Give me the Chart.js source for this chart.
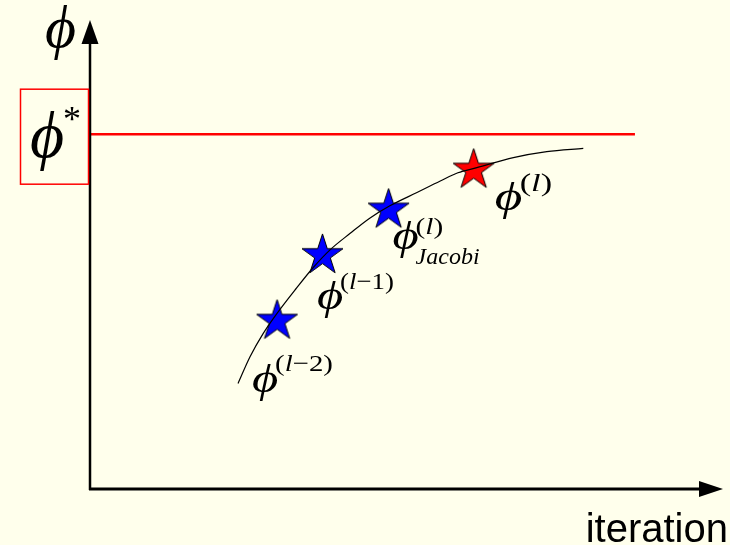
<!DOCTYPE html>
<html>
<head>
<meta charset="utf-8">
<title>Jacobi iteration</title>
<script src="https://cdn.jsdelivr.net/npm/chart.js@4/dist/chart.umd.min.js"></script>
<style>
  html, body { margin: 0; padding: 0; background: #ffffec; }
  canvas { display: block; }
</style>
</head>
<body>
<canvas id="chart" width="730" height="545"></canvas>
<script>
// trace of the iterates (x: iteration, y: phi, arbitrary units)
const curveX = [23.5, 25.4, 27.5, 29.6, 32.8, 35.4, 38.1, 41.3, 44.4, 47.6, 51.9, 55.6, 58.4, 61.4, 67.2, 72.5, 78.3];
const curveY = [23.0, 28.8, 33.9, 38.1, 43.8, 48.2, 52.1, 55.7, 59.0, 61.7, 64.6, 67.1, 68.9, 70.0, 72.2, 73.5, 74.2];

// the marked iterates
const iterX = [29.7, 36.9, 47.4, 60.9];
const iterY = [36.6, 50.9, 60.8, 69.5];
const iterColors = ['#0000ff', '#0000ff', '#0000ff', '#ff0000'];
const iterSup = ['(l\u22122)', '(l\u22121)', '(l)', '(l)'];
const iterSub = ['', '', 'Jacobi', ''];

// converged solution phi*
const phiStar = 77.3;
const phiStarEnd = 86.5;

const SERIF = "'Liberation Serif', 'Times New Roman', 'DejaVu Serif', serif";
const PHI = '\u03D5';

// five-pointed star sprite used as pointStyle
function makeStar(color, r) {
  const c = document.createElement('canvas');
  const size = Math.ceil(r * 2 + 4);
  c.width = size;
  c.height = size;
  const g = c.getContext('2d');
  const cx = size / 2, cy = size / 2, ri = r * 0.382;
  g.beginPath();
  for (let i = 0; i < 10; i++) {
    const rad = i % 2 === 0 ? r : ri;
    const a = -Math.PI / 2 + i * Math.PI / 5;
    const px = cx + rad * Math.cos(a), py = cy + rad * Math.sin(a);
    if (i === 0) g.moveTo(px, py); else g.lineTo(px, py);
  }
  g.closePath();
  g.fillStyle = color;
  g.fill();
  g.lineWidth = 1;
  g.strokeStyle = '#000';
  g.stroke();
  return c;
}

// letters italic, the rest upright; sx widens the run
function drawMixed(ctx, text, x, y, size, sx) {
  ctx.save();
  ctx.translate(x, y);
  ctx.scale(sx, 1);
  let cx = 0;
  for (const ch of text) {
    ctx.font = (/[A-Za-z]/.test(ch) ? 'italic ' : '') + size + 'px ' + SERIF;
    ctx.fillText(ch, cx, 0);
    cx += ctx.measureText(ch).width;
  }
  ctx.restore();
}

// wide italic phi used in the iterate labels
function drawPhi(ctx, x, y, size, sx) {
  ctx.save();
  ctx.translate(x, y);
  ctx.scale(sx, 1);
  ctx.font = 'italic ' + size + 'px ' + SERIF;
  ctx.fillText(PHI, 0, 0);
  ctx.restore();
}

const diagram = {
  id: 'diagram',
  afterDatasetsDraw(chart) {
    const { ctx, chartArea, scales } = chart;
    const x0 = scales.x.getPixelForValue(0);
    const y0 = scales.y.getPixelForValue(0);
    ctx.save();
    ctx.fillStyle = '#000';
    ctx.strokeStyle = '#000';

    // y axis with arrow
    ctx.lineWidth = 2.5;
    ctx.beginPath();
    ctx.moveTo(x0, y0 + 1);
    ctx.lineTo(x0, chartArea.top + 12);
    ctx.stroke();
    ctx.beginPath();
    ctx.moveTo(x0, chartArea.top - 10);
    ctx.lineTo(x0 - 8.5, chartArea.top + 14);
    ctx.lineTo(x0 + 8.5, chartArea.top + 14);
    ctx.closePath();
    ctx.fill();

    // x axis with arrow
    ctx.lineWidth = 3;
    ctx.beginPath();
    ctx.moveTo(x0 - 1, y0);
    ctx.lineTo(chartArea.right - 19, y0);
    ctx.stroke();
    ctx.beginPath();
    ctx.moveTo(chartArea.right + 3, y0);
    ctx.lineTo(chartArea.right - 21, y0 - 8);
    ctx.lineTo(chartArea.right - 21, y0 + 8);
    ctx.closePath();
    ctx.fill();

    // axis titles
    ctx.textBaseline = 'alphabetic';
    ctx.textAlign = 'left';
    ctx.font = 'italic 60px ' + SERIF;
    ctx.fillText(PHI, 45, 47);
    ctx.textAlign = 'right';
    ctx.font = '40px "Liberation Sans", Arial, sans-serif';
    ctx.fillText('iteration', 728, 542);
    ctx.textAlign = 'left';

    // boxed phi* next to its level
    const ys = scales.y.getPixelForValue(phiStar);
    ctx.strokeStyle = '#ff0000';
    ctx.lineWidth = 1.5;
    ctx.strokeRect(20.5, ys - 45, x0 - 22, 95);
    ctx.font = 'italic 66px ' + SERIF;
    ctx.fillText(PHI, 30, ys + 23);
    ctx.font = '36px ' + SERIF;
    ctx.fillText('*', 63, ys - 3);

    // labels under each iterate
    const offs = [[-25, 71], [-5.5, 53.5], [4, 39], [21, 40]];
    const rise = [21, 20, 15, 19];
    const supSize = [24, 24, 24, 26];
    const supScale = [1.2, 1.12, 1.22, 1.32];
    const meta = chart.getDatasetMeta(2);
    meta.data.forEach((pt, i) => {
      const x = pt.x + offs[i][0];
      const y = pt.y + offs[i][1];
      drawPhi(ctx, x, y, i === 3 ? 41 : 39, 1.3);
      const xs = x + (i === 3 ? 25 : 23);
      if (iterSup[i]) drawMixed(ctx, iterSup[i], xs, y - rise[i], supSize[i], supScale[i]);
      if (iterSub[i]) drawMixed(ctx, iterSub[i], xs, y + 15, 24, 1);
    });
    ctx.restore();
  }
};

new Chart(document.getElementById('chart'), {
  type: 'scatter',
  data: {
    datasets: [
      {
        data: curveX.map((x, i) => ({ x, y: curveY[i] })),
        showLine: true,
        borderColor: '#000',
        borderWidth: 1.2,
        pointRadius: 0,
        cubicInterpolationMode: 'monotone'
      },
      {
        data: [{ x: 0, y: phiStar }, { x: phiStarEnd, y: phiStar }],
        showLine: true,
        borderColor: '#ff0000',
        borderWidth: 2.5,
        pointRadius: 0
      },
      {
        data: iterX.map((x, i) => ({ x, y: iterY[i] })),
        pointStyle: iterColors.map((c) => makeStar(c, 21.5)),
        pointRadius: 22,
        showLine: false,
        clip: false
      }
    ]
  },
  options: {
    responsive: false,
    animation: false,
    events: [],
    layout: { autoPadding: false, padding: { left: 90, right: 10, top: 30, bottom: 56 } },
    scales: {
      x: { type: 'linear', min: 0, max: 100, display: false },
      y: { type: 'linear', min: 0, max: 100, display: false }
    },
    plugins: { legend: { display: false }, tooltip: { enabled: false } }
  },
  plugins: [diagram]
});
</script>
</body>
</html>
